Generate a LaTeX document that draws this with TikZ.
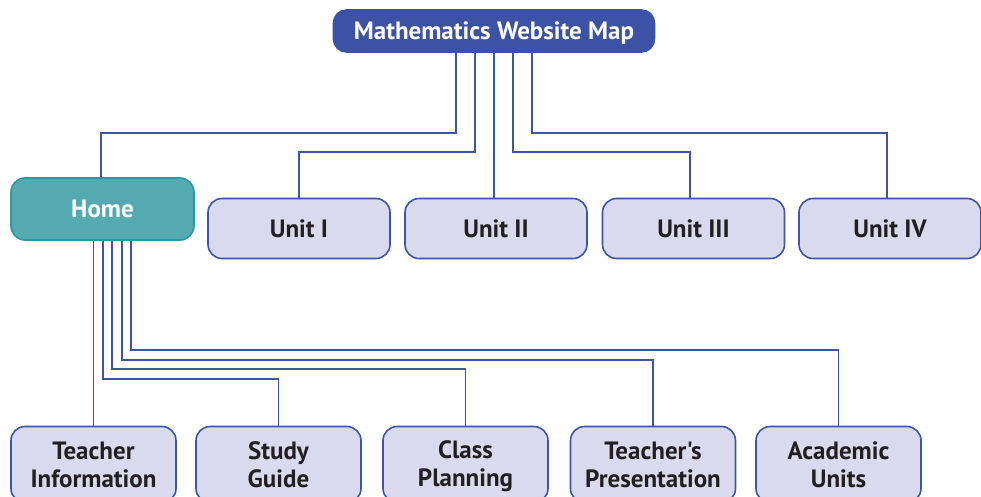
\documentclass[tikz,border=0pt]{standalone}
\usepackage{fontspec}
\setmainfont{PT Sans}[Ligatures=TeXOff]
\definecolor{topblue}{HTML}{3C52A4}
\definecolor{linkblue}{HTML}{3C55A6}
\definecolor{homefill}{HTML}{55A9B1}
\definecolor{homedraw}{HTML}{2A9AA0}
\definecolor{unitfill}{HTML}{D9DAEE}
\definecolor{textdark}{HTML}{231F20}
\newcommand{\myln}[1]{\rule[-4.5pt]{0pt}{26.5pt}#1}
\begin{document}
\begin{tikzpicture}[x=1pt,y=-1pt,
  base/.style={rounded corners=14pt,line width=1.6pt,inner sep=0pt,align=center,font=\bfseries\fontsize{25}{28}\selectfont},
  topbox/.style={base,fill=topblue,draw=topblue,text=white,minimum width=321pt,minimum height=42pt,rounded corners=13pt},
  homebox/.style={base,fill=homefill,draw=homedraw,text=white,minimum width=183pt,minimum height=62pt},
  unitbox/.style={base,fill=unitfill,draw=linkblue,text=textdark,minimum width=182pt,minimum height=60pt},
  leafbox/.style={base,fill=unitfill,draw=linkblue,text=textdark,minimum width=165pt,minimum height=76pt},
  link/.style={draw=linkblue,line width=1.5pt}]
\useasboundingbox (0,0) rectangle (981,496);
\clip (0,0) rectangle (981,496);
\node[topbox] (top) at (494,31) {\myln{Mathematics Website Map}};
\node[homebox] (home) at (102.5,209) {\myln{Home}};
\node[unitbox] (u1) at (299,228.5) {\myln{Unit I}};
\node[unitbox] (u2) at (496,228.5) {\myln{Unit II}};
\node[unitbox] (u3) at (693.5,228.5) {\myln{Unit III}};
\node[unitbox] (u4) at (890,228.5) {\myln{Unit IV}};
\node[leafbox] (l1) at (93.5,464.5) {\myln{Teacher}\\\myln{Information}};
\node[leafbox] (l2) at (278.5,464.5) {\myln{Study}\\\myln{Guide}};
\node[leafbox] (l3) at (465.5,464.5) {\myln{Class}\\\myln{Planning}};
\node[leafbox] (l4) at (653,464.5) {\myln{Teacher's}\\\myln{Presentation}};
\node[leafbox] (l5) at (838.5,464.5) {\myln{Academic}\\\myln{Units}};
% top connectors
\draw[link] ([xshift=-38pt]top.south) -- ([xshift=-38pt]top.south |- 0,133) -| ([xshift=-1.5pt]home.north);
\draw[link] ([xshift=-19pt]top.south) -- ([xshift=-19pt]top.south |- 0,152) -| (u1.north);
\draw[link] (top.south) -- (top.south |- u2.north);
\draw[link] ([xshift=19pt]top.south) -- ([xshift=19pt]top.south |- 0,152) -| ([xshift=-3.5pt]u3.north);
\draw[link] ([xshift=38pt]top.south) -- ([xshift=38pt]top.south |- 0,133) -| ([xshift=-3pt]u4.north);
% home connectors
\draw[link] (l1.north |- home.south) -- (l1.north);
\draw[link] ([xshift=0.5pt]home.south) -- ([xshift=0.5pt]home.south |- 0,379) -| (l2.north);
\draw[link] ([xshift=9.5pt]home.south) -- ([xshift=9.5pt]home.south |- 0,369) -| (l3.north);
\draw[link] ([xshift=19.5pt]home.south) -- ([xshift=19.5pt]home.south |- 0,360) -| (l4.north);
\draw[link] ([xshift=28.5pt]home.south) -- ([xshift=28.5pt]home.south |- 0,350) -| (l5.north);
\end{tikzpicture}
\end{document}
